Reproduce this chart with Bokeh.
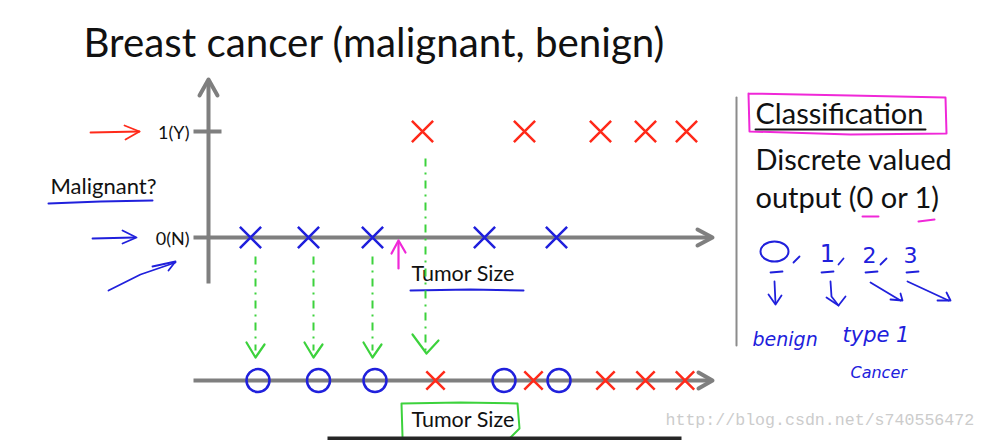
from bokeh.plotting import figure
from bokeh.models import Range1d
from bokeh.core.properties import value
from bokeh.embed import file_html
from bokeh.resources import INLINE

# ---------------- data ----------------
# top chart: tumour size (arbitrary units) and label (0 = benign, 1 = malignant)
benign_size = [0.84, 2.0, 3.28, 5.52, 6.96]
benign_label = [0, 0, 0, 0, 0]
malignant_size = [4.28, 6.32, 7.84, 8.74, 9.56]
malignant_label = [1, 1, 1, 1, 1]
# bottom 1-D strip (redrawn points)
strip_benign_size = [0.99, 2.2, 3.33, 5.91, 7.01]
strip_malignant_size = [4.54, 6.5, 7.94, 8.74, 9.53]
# projections drawn in green
projected_size = [0.94, 2.1, 3.28, 4.34]
y_ticks = [0, 1]
y_tick_labels = ["0(N)", "1(Y)"]

# ---------------- layout helpers ----------------
W, H = 984, 440
OX, OY = 0, 0            # page offset of the canvas
PX0, PXS = 208, 50.0     # pixel of size 0, pixels per size unit
PY0, PYS = 237, 106.0    # pixel of label 0, pixels per label unit


def X(px):
    return (px - PX0) / PXS


def Y(py):
    return (PY0 - py) / PYS


STRIP = Y(380)

p = figure(width=W, height=H, x_range=Range1d(X(OX), X(OX + W)),
           y_range=Range1d(Y(OY + H), Y(OY)), output_backend="svg",
           toolbar_location=None, min_border=0,
           x_axis_location=None, y_axis_location=None)
p.grid.visible = False
p.outline_line_color = None
p.background_fill_color = "white"

GRAY = "#7f7f7f"
RED = "#ff2a1a"
BLUE = "#2020dc"
GREEN = "#3cd23c"
MAG = "#f028d8"
FONT = "Lato"


def stroke(pts, color, width=2.5, dash="solid", alpha=1.0):
    p.line([X(a) for a, b in pts], [Y(b) for a, b in pts], line_color=color,
           line_width=width, line_dash=dash, line_cap="round",
           line_join="round", line_alpha=alpha)


def label(px, py, s, size, color="#111111", align="left",
          font=FONT, style="normal"):
    # py is the wanted baseline; the svg text sits ~0.38em lower, so lift it
    p.text(x=[X(px)], y=[Y(py - 0.38 * size)], text=[s],
           text_font=value(font), text_font_size=f"{size}px",
           text_color=color, text_align=align, text_baseline="alphabetic",
           text_font_style=style)


# ---------------- title ----------------
label(83, 56, "Breast cancer (malignant, benign)", 40.3)

# ---------------- top chart axes ----------------
p.segment(x0=[X(208)], y0=[Y(283)], x1=[X(208)], y1=[Y(82)],
          line_color=GRAY, line_width=4)
stroke([(199, 95), (208, 79), (217, 95)], GRAY, 4)
p.segment(x0=[X(193)], y0=[0], x1=[X(709)], y1=[0],
          line_color=GRAY, line_width=4)
stroke([(697, 229), (712, 237), (697, 245)], GRAY, 4)
p.segment(x0=[X(193)], y0=[1], x1=[X(221)], y1=[1],
          line_color=GRAY, line_width=4)
for t, s in zip(y_ticks, y_tick_labels):
    p.text(x=[X(189)], y=[t], text=[s], text_font=value(FONT),
           text_font_size="18px", text_color="#111111", text_align="right",
           text_baseline="middle")

# data points
p.scatter(benign_size, benign_label, marker="x", size=30,
          line_color=BLUE, line_width=2.5)
p.scatter(malignant_size, malignant_label, marker="x", size=30,
          line_color=RED, line_width=2.5)

# left annotations
label(50, 193, "Malignant?", 22)
stroke([(48, 203), (100, 201), (152, 200)], BLUE, 2)
stroke([(90, 132), (139, 131)], RED, 1.8)
stroke([(124, 125), (139, 131), (125, 139)], RED, 1.8)
stroke([(92, 238), (134, 237)], BLUE, 1.8)
stroke([(122, 230), (136, 237), (122, 243)], BLUE, 1.8)
stroke([(108, 290), (140, 274), (175, 262)], BLUE, 1.8)
stroke([(152, 266), (175, 261), (168, 270)], BLUE, 1.8)
stroke([(398, 268), (398, 241)], MAG, 2.2)
stroke([(391, 253), (398, 240), (405, 252)], MAG, 2.2)

label(411, 281, "Tumor Size", 21.5)
stroke([(410, 290), (470, 289), (523, 290)], BLUE, 2)

# ---------------- projections ----------------
for i, s in enumerate(projected_size):
    top = 158 if i == 3 else 256
    p.line([s, s], [Y(top), Y(350)], line_color=GREEN, line_width=2,
           line_dash="8 6 2 6")
    cx = PX0 + s * PXS
    if i == 3:
        stroke([(cx - 13, 334), (cx + 1, 353), (cx + 13, 340)], GREEN, 2.2)
    else:
        stroke([(cx - 9, 342), (cx, 357), (cx + 9, 344)], GREEN, 2.2)

# ---------------- bottom strip ----------------
p.segment(x0=[X(193)], y0=[STRIP], x1=[X(709)], y1=[STRIP],
          line_color=GRAY, line_width=4)
stroke([(698, 372), (712, 380), (698, 388)], GRAY, 4)
p.scatter(strip_benign_size, [STRIP] * len(strip_benign_size),
          marker="circle", size=23, fill_color=None, line_color=BLUE,
          line_width=2.5)
p.scatter(strip_malignant_size, [STRIP] * len(strip_malignant_size),
          marker="x", size=26, line_color=RED, line_width=2.5)

label(411, 427, "Tumor Size", 21.5)
stroke([(402, 436), (401, 403), (460, 402), (517, 403), (519, 428),
        (510, 437)], GREEN, 2)
# dark caption bar along the bottom edge
p.quad(left=[X(327)], right=[X(681)], bottom=[Y(441)], top=[Y(436)],
       fill_color="#262626", line_color=None)

# ---------------- right panel ----------------
stroke([(736, 97), (736, 345)], "#8c8c8c", 2)
label(755, 123, "Classification", 29)
stroke([(755, 129), (925, 129)], "#111111", 2)
stroke([(748, 93), (850, 95), (945, 97), (946, 133), (850, 134),
        (749, 131), (748, 93)], MAG, 2)
label(755, 169, "Discrete valued", 29)
label(755, 207, "output (0 or 1)", 29)
stroke([(862, 216), (878, 216)], MAG, 2)
stroke([(918, 221), (934, 219)], MAG, 2)

# handwriting
p.ellipse(x=[X(774)], y=[Y(251)], width=28 / PXS, height=20 / PYS,
          fill_color=None, line_color=BLUE, line_width=2)
label(827, 262, "1", 24, BLUE, align="center", font="DejaVu Sans")
label(869, 263, "2", 22, BLUE, align="center", font="DejaVu Sans")
label(910, 263, "3", 22, BLUE, align="center", font="DejaVu Sans")
for a, b in [((793, 262), (799, 256)), ((838, 264), (843, 258)),
             ((880, 264), (886, 258))]:
    stroke([a, b], BLUE, 1.8)
for x0 in [770, 821, 865, 906]:
    stroke([(x0, 272), (x0 + 12, 271)], BLUE, 1.8)
stroke([(774, 281), (775, 303)], BLUE, 1.8)
stroke([(768, 294), (775, 304), (781, 295)], BLUE, 1.8)
stroke([(830, 281), (831, 296), (838, 305)], BLUE, 1.8)
stroke([(826, 297), (838, 305), (845, 296)], BLUE, 1.8)
stroke([(870, 282), (900, 300)], BLUE, 1.8)
stroke([(890, 299), (902, 300), (900, 293)], BLUE, 1.8)
stroke([(907, 281), (948, 300)], BLUE, 1.8)
stroke([(937, 300), (950, 300), (946, 292)], BLUE, 1.8)
label(752, 346, "benign", 19, BLUE, font="DejaVu Sans", style="italic")
label(842, 342, "type 1", 21, BLUE, font="DejaVu Sans", style="italic")
label(850, 378, "Cancer", 16, BLUE, font="DejaVu Sans", style="italic")

# watermark
label(665, 426, "http://blog.csdn.net/s740556472", 16.6, "#cccccc",
      font="Liberation Mono")

html = file_html(p, INLINE)
open("out.html", "w").write(html)
